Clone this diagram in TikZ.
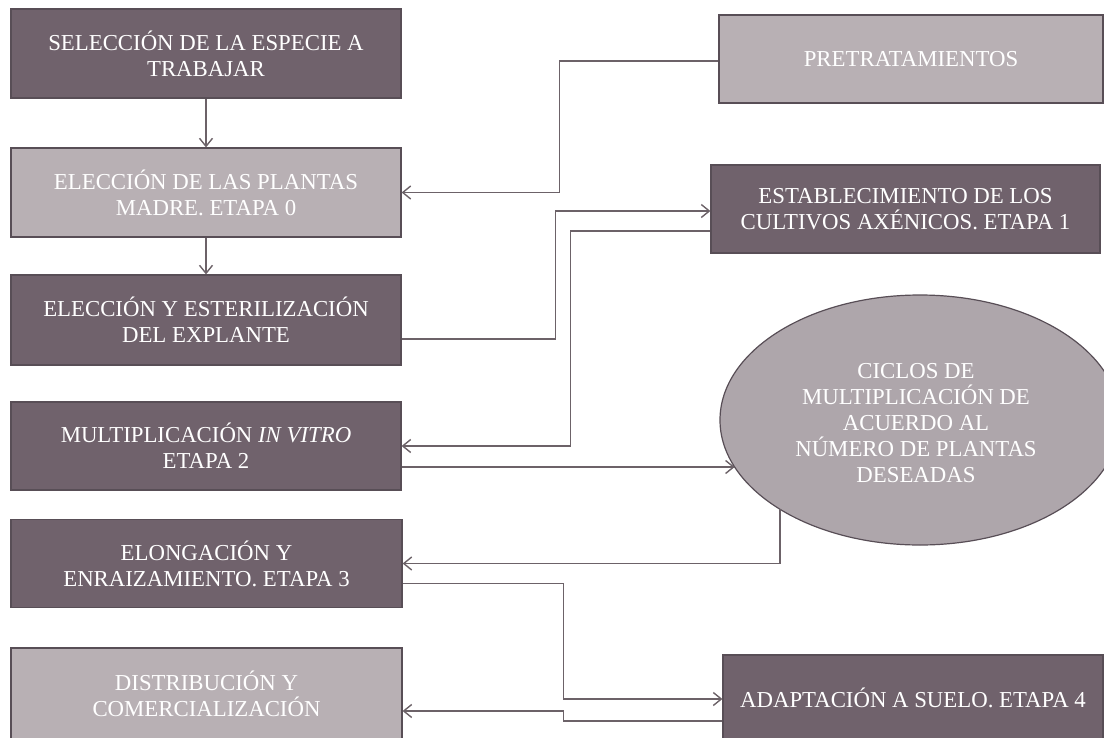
\documentclass[tikz,border=0pt]{standalone}
\usepackage{fontspec}
\setmainfont{Liberation Serif}
\usetikzlibrary{arrows.meta,shapes.geometric,calc}
\definecolor{darkbox}{RGB}{112,98,108}
\definecolor{lightbox}{RGB}{184,176,180}
\definecolor{ellfill}{RGB}{174,166,171}
\definecolor{edge}{RGB}{88,78,86}
\definecolor{wire}{RGB}{108,98,104}
\tikzset{
  box/.style={draw=edge, line width=1.2pt, rectangle, align=center, text=white,
    inner sep=0pt, font=\fontsize{22.8}{26}\selectfont},
  darkb/.style={box, fill=darkbox},
  lightb/.style={box, fill=lightbox},
  lbl/.style={align=center, text=white, inner sep=0pt, font=\fontsize{22.8}{26}\selectfont},
  arr/.style={draw=wire, line width=1.6pt, -{Straight Barb[length=8pt,width=13pt,line width=1.4pt]}},
  ln/.style={draw=wire, line width=1.6pt}
}
\begin{document}
\begin{tikzpicture}[x=1pt,y=-1pt]
\useasboundingbox (0,0) rectangle (1104,737);
% left column
\node[darkb, minimum width=390pt, minimum height=89pt] (b1) at (206,53.5) {SELECCIÓN DE LA ESPECIE A\\TRABAJAR};
\node[lightb, minimum width=390pt, minimum height=89pt] (b2) at (206,192.5) {ELECCIÓN DE LAS PLANTAS\\MADRE. ETAPA 0};
\node[darkb, minimum width=390pt, minimum height=90pt] (b3) at (206,320) {ELECCIÓN Y ESTERILIZACIÓN\\DEL EXPLANTE};
\node[darkb, minimum width=390pt, minimum height=88pt] (b4) at (206,446) {MULTIPLICACIÓN \textit{IN VITRO}\\ETAPA 2};
\node[darkb, minimum width=391pt, minimum height=88pt] (b5) at (206.5,563.5) {ELONGACIÓN Y\\ENRAIZAMIENTO. ETAPA 3};
\node[lightb, minimum width=391pt, minimum height=92pt] (b6) at (206.5,694) {DISTRIBUCIÓN Y\\COMERCIALIZACIÓN};
% right column
\node[lightb, minimum width=384pt, minimum height=88pt] (pre) at (911,59) {PRETRATAMIENTOS};
\node[darkb, minimum width=389pt, minimum height=88pt] (est) at (905.5,209) {ESTABLECIMIENTO DE LOS\\CULTIVOS AXÉNICOS. ETAPA 1};
\node[draw=edge, line width=1.2pt, fill=ellfill, ellipse, minimum width=400pt, minimum height=250pt, inner sep=0pt] (ell) at (920,420) {};
\node[lbl] (ellt) at (916,423) {CICLOS DE\\MULTIPLICACIÓN DE\\ACUERDO AL\\NÚMERO DE PLANTAS\\DESEADAS};
\node[darkb, minimum width=380pt, minimum height=86pt] (adap) at (913,698) {ADAPTACIÓN A SUELO. ETAPA 4};
\coordinate (ellin) at ([xshift=-185.3pt,yshift=-47pt]ell.center);
\coordinate (ellout) at ([xshift=-140pt,yshift=-89.3pt]ell.center);
% connectors
\draw[arr] (b1.south) -- (b2.north);
\draw[arr] (b2.south) -- (b3.north);
\draw[arr] ([yshift=-2pt]pre.west) -- ++(-159,0) |- (b2.east);
\draw[arr] ([yshift=-19pt]b3.east) -- ++(154,0) |- ([yshift=-2pt]est.west);
\draw[arr] ([yshift=-22pt]est.west) -- ++(-140,0) |- (b4.east);
\draw[arr] ([yshift=-21pt]b4.east) -- (ellin);
\draw[arr] (ellout) |- (b5.east);
\draw[arr] ([yshift=-20pt]b5.east) -- ++(161,0) |- ([yshift=-1pt]adap.west);
\draw[arr] ([yshift=-23pt]adap.west) -| ([xshift=161pt,yshift=-17pt]b6.east) -- ([yshift=-17pt]b6.east);
\end{tikzpicture}
\end{document}
